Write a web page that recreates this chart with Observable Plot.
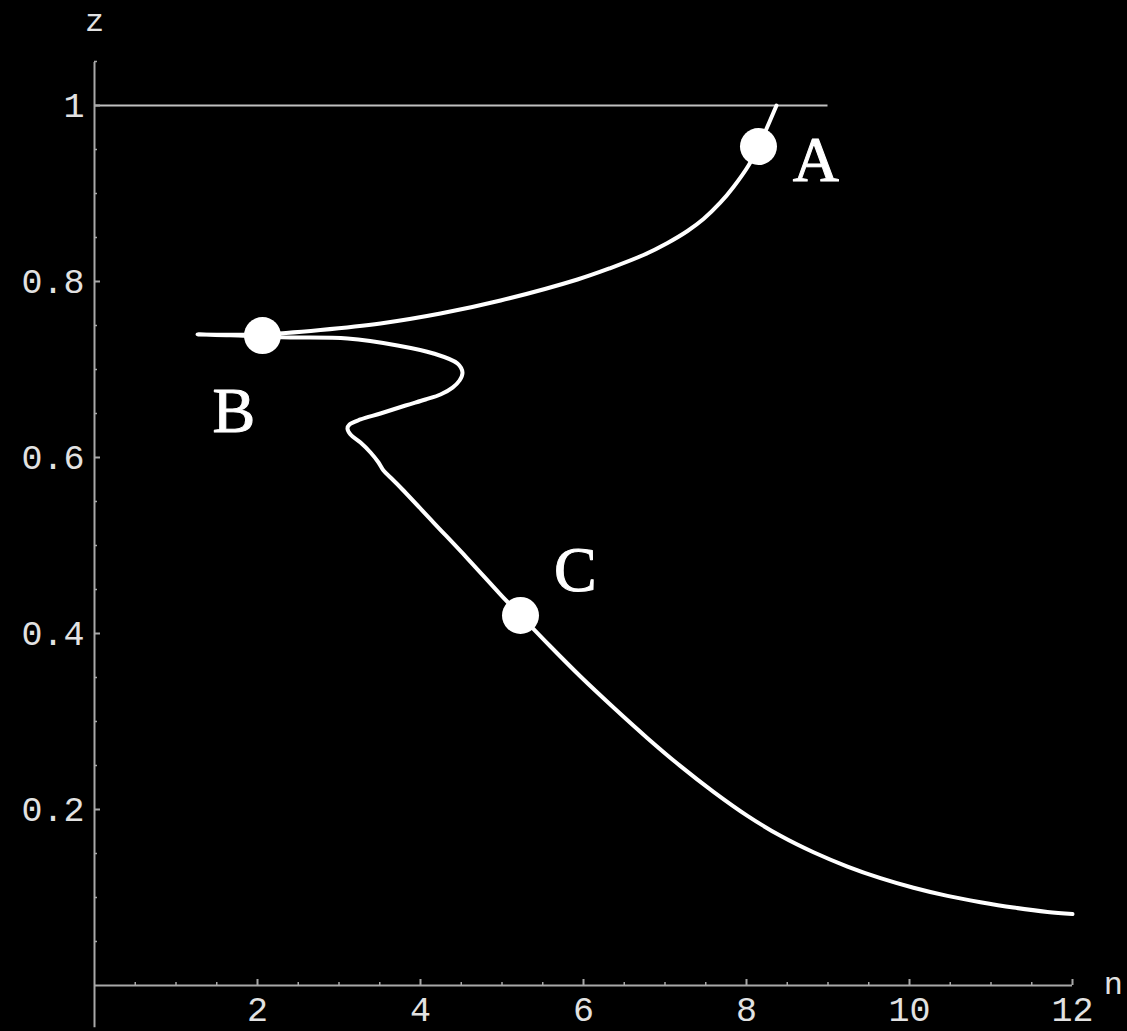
<!DOCTYPE html>
<html>
<head>
<meta charset="utf-8">
<script src="https://cdn.jsdelivr.net/npm/d3@7"></script>
<script src="https://cdn.jsdelivr.net/npm/@observablehq/plot@0.6"></script>
<style>
  html, body { margin: 0; padding: 0; background: #000; }
  #chart svg { display: block; }
</style>
</head>
<body>
<div id="chart"></div>
<script>
// Trajectory z(n): from z = 1 through A, out to the cusp near B, back through the fold, then down through C.
const curveN = [8.368, 8.147, 8.025, 7.840, 7.681, 7.472, 7.276, 7.031, 6.736, 6.331, 5.926, 4.982, 4.245, 3.509,
  2.773, 2.061, 1.669, 1.264,
  1.669, 2.061, 2.405, 3.104, 3.718, 4.160, 4.454, 4.515, 4.479, 4.393, 4.245, 4.061, 3.816, 3.509, 3.264,
  3.129, 3.104, 3.141, 3.264, 3.387, 3.485, 3.546, 3.632, 3.755, 4.160, 4.577, 4.982, 5.227, 5.595, 5.963,
  6.368, 6.785, 7.190, 7.595, 8.012, 8.417, 8.822, 9.239, 9.644, 10.049, 10.466, 10.871, 11.276, 11.693, 12.0];
const curveZ = [1.0, 0.9534, 0.9318, 0.9074, 0.8898, 0.8710, 0.8574, 0.8438, 0.8301, 0.8153, 0.8023, 0.7784, 0.7636, 0.7523,
  0.7449, 0.7398, 0.7395, 0.7398,
  0.7390, 0.7375, 0.7364, 0.7352, 0.7273, 0.7182, 0.7068, 0.6966, 0.6875, 0.6795, 0.6716, 0.6659, 0.6591, 0.6500, 0.6432,
  0.6375, 0.6330, 0.6261, 0.6170, 0.6057, 0.5943, 0.5852, 0.5773, 0.5659, 0.5261, 0.4852, 0.4443, 0.4205, 0.3852, 0.3511,
  0.3159, 0.2811, 0.2493, 0.2201, 0.1928, 0.1701, 0.1514, 0.1352, 0.1220, 0.1111, 0.1018, 0.0947, 0.0886, 0.0836, 0.0812];

// Marked states
const pointNames = ["A", "B", "C"];
const pointN = [8.147, 2.061, 5.227];
const pointZ = [0.9534, 0.7385, 0.4205];
// Letter anchors beside each state
const letterN = [8.85, 1.71, 5.90];
const letterZ = [0.9375, 0.652, 0.4716];

// Axis ticks
const xMajor = [2, 4, 6, 8, 10, 12];
const xMinor = d3.range(0.5, 12.01, 0.5).filter(v => v % 2 !== 0);
const yMajor = [0.2, 0.4, 0.6, 0.8, 1];
const yMinor = d3.range(0.05, 1.051, 0.05).map(v => +v.toFixed(2)).filter(v => Math.round(v * 100) % 20 !== 0);

const curve = curveN.map((n, i) => ({n, z: curveZ[i]}));
const points = pointNames.map((name, i) => ({name, n: pointN[i], z: pointZ[i]}));
const letters = pointNames.map((name, i) => ({name, n: letterN[i], z: letterZ[i]}));

const axisColor = "#a8a8a8";
const labelColor = "#e2e2e2";
const mono = "'Liberation Mono', 'DejaVu Sans Mono', monospace";

const chart = Plot.plot({
  width: 1127,
  height: 1031,
  marginLeft: 94,
  marginRight: 55,
  marginTop: 105,
  marginBottom: 46,
  style: {background: "#000", overflow: "visible"},
  x: {domain: [0, 12], axis: null},
  y: {domain: [0, 1], axis: null},
  marks: [
    // reference level z = 1
    Plot.ruleY([1], {x1: 0, x2: 9, stroke: "#c0c0c0", strokeWidth: 2}),
    // axes crossing at the origin
    Plot.ruleX([0], {y1: -0.048, y2: 1.049, stroke: axisColor, strokeWidth: 2}),
    Plot.ruleY([0], {x1: 0, x2: 12, stroke: axisColor, strokeWidth: 2}),
    // inward ticks
    Plot.axisX({ticks: xMajor, anchor: "bottom", tickSize: -6, tickFormat: () => "", stroke: axisColor, strokeWidth: 2}),
    Plot.axisX({ticks: xMinor, anchor: "bottom", tickSize: -3, tickFormat: () => "", stroke: axisColor, strokeWidth: 1.5}),
    Plot.axisY({ticks: yMajor, anchor: "left", tickSize: -6, tickFormat: () => "", stroke: axisColor, strokeWidth: 2}),
    Plot.axisY({ticks: yMinor, anchor: "left", tickSize: -3, tickFormat: () => "", stroke: axisColor, strokeWidth: 1.5}),
    // tick labels
    Plot.text(xMajor, {x: d => d, y: 0, text: d => String(d), dy: 24, fill: labelColor,
      fontFamily: mono, fontSize: 35, textAnchor: "middle", lineAnchor: "middle"}),
    Plot.text(yMajor, {x: 0, y: d => d, text: d => d === 1 ? "1" : d.toFixed(1), dx: -10, fill: labelColor,
      fontFamily: mono, fontSize: 35, textAnchor: "end", lineAnchor: "middle"}),
    // axis names
    Plot.text(["z"], {x: 0, y: 1.0966, text: d => d, fill: labelColor, fontFamily: mono, fontSize: 32,
      textAnchor: "middle", lineAnchor: "middle"}),
    Plot.text(["n"], {x: 12.5, y: 0, text: d => d, dy: -2, fill: labelColor, fontFamily: mono, fontSize: 32,
      textAnchor: "middle", lineAnchor: "middle"}),
    // trajectory
    Plot.line(curve, {x: "n", y: "z", stroke: "#fff", strokeWidth: 4, curve: "catmull-rom"}),
    // states
    Plot.dot(points, {x: "n", y: "z", r: 18.5, fill: "#fff", stroke: "none"}),
    Plot.text(letters, {x: "n", y: "z", text: "name", fill: "#fff", stroke: "#fff", strokeWidth: 1,
      fontFamily: "'Liberation Serif', 'Times New Roman', serif", fontSize: 64,
      textAnchor: "middle", lineAnchor: "middle"})
  ]
});

document.getElementById("chart").appendChild(chart);
</script>
</body>
</html>
